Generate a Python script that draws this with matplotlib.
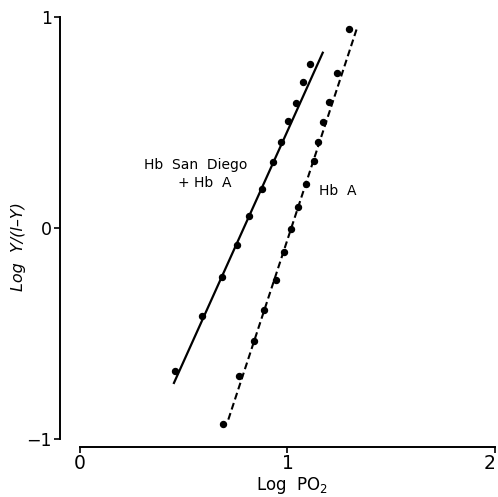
import matplotlib
matplotlib.use('Agg')
import matplotlib.pyplot as plt
import matplotlib.transforms as mtransforms

# Hb San Diego + Hb A (solid line)
sd_x = [0.458, 0.587, 0.683, 0.755, 0.814, 0.877, 0.929, 0.967, 1.004, 1.039, 1.076, 1.108]
sd_y = [-0.678, -0.420, -0.231, -0.081, 0.057, 0.183, 0.314, 0.406, 0.507, 0.591, 0.692, 0.776]
sd_fit_x = [0.453, 1.170]
sd_fit_y = [-0.736, 0.831]

# Hb A (dashed line)
a_x = [0.691, 0.768, 0.840, 0.887, 0.943, 0.983, 1.017, 1.052, 1.089, 1.128, 1.148, 1.173, 1.202, 1.240, 1.298]
a_y = [-0.929, -0.701, -0.536, -0.389, -0.246, -0.117, -0.006, 0.098, 0.206, 0.318, 0.409, 0.501, 0.595, 0.733, 0.943]
a_fit_x = [0.715, 1.338]
a_fit_y = [-0.910, 0.957]

xticks = [0, 1, 2]
yticks = [-1, 0, 1]

fig = plt.figure(figsize=(4.98, 4.97), dpi=100)
ax = fig.add_axes([0.1205, 0.1006, 0.8735, 0.865])

ax.plot(sd_fit_x, sd_fit_y, color='black', lw=1.6)
ax.plot(sd_x, sd_y, 'o', color='black', ms=4.3)
ax.plot(a_fit_x, a_fit_y, color='black', lw=1.5, dashes=(3.3, 1.8))
ax.plot(a_x, a_y, 'o', color='black', ms=4.3)

ax.text(0.559, 0.299, 'Hb  San  Diego', ha='center', va='center', fontsize=10)
ax.text(0.602, 0.213, '+ Hb  A', ha='center', va='center', fontsize=10)
ax.text(1.243, 0.175, 'Hb  A', ha='center', va='center', fontsize=10)

ax.set_xlim(-0.096, 2.0)
ax.set_ylim(-1.04, 1.0)
ax.spines['top'].set_visible(False)
ax.spines['right'].set_visible(False)
ax.spines['left'].set_bounds(-1, 1)
ax.spines['bottom'].set_bounds(0, 2)
ax.spines['left'].set_linewidth(1.4)
ax.spines['bottom'].set_linewidth(1.4)
ax.set_xticks(xticks)
ax.set_yticks(yticks)
ax.set_yticklabels(['\u22121', '0', '1'])
ax.tick_params(axis='x', direction='out', length=4, width=1.2, labelsize=13.5, pad=1)
ax.tick_params(axis='y', direction='out', length=4, width=1.2, labelsize=12.5, pad=2)

# nudge the last x tick label so it stays inside the picture
last = ax.get_xticklabels()[-1]
last.set_transform(last.get_transform() + mtransforms.ScaledTranslation(-4 / 72, 0, fig.dpi_scale_trans))

ax.set_xlabel('Log  PO$_2$', fontsize=12)
ax.xaxis.set_label_coords(0.533, -0.064)
ax.set_ylabel('Log  Y/(l\u2013Y)', fontsize=11.5, style='italic')
ax.yaxis.set_label_coords(-0.078, 0.467)

fig.savefig('out.png', dpi=100)
